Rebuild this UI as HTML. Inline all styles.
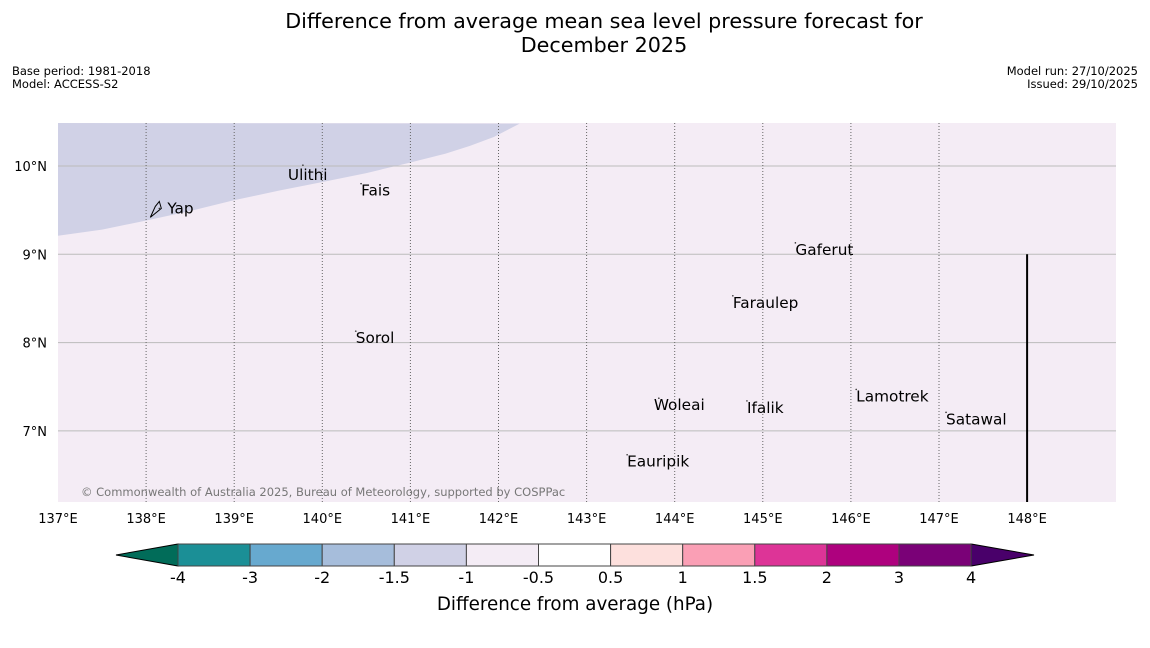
<!DOCTYPE html>
<html><head><meta charset="utf-8"><style>
body{margin:0;background:#fff;width:1150px;height:644px;overflow:hidden;font-family:"DejaVu Sans","Liberation Sans",sans-serif}
</style></head><body>
<svg width="1150" height="644" xmlns="http://www.w3.org/2000/svg" font-family="DejaVu Sans, Liberation Sans, sans-serif">
<text x="604" y="28" font-size="20.7" text-anchor="middle">Difference from average mean sea level pressure forecast for</text>
<text x="604" y="52" font-size="20.7" text-anchor="middle">December 2025</text>
<text x="12" y="75" font-size="11.5">Base period: 1981-2018</text>
<text x="12" y="88" font-size="11.5">Model: ACCESS-S2</text>
<text x="1138" y="75" font-size="11.5" text-anchor="end">Model run: 27/10/2025</text>
<text x="1138" y="88" font-size="11.5" text-anchor="end">Issued: 29/10/2025</text>
<g id="map"></g>
<g id="cbar"></g>
<text x="575" y="610" font-size="18.3" text-anchor="middle">Difference from average (hPa)</text>
</svg>
<script>
const lonTicks=[137,138,139,140,141,142,143,144,145,146,147,148];
const latTicks=[10,9,8,7];
const places=["Yap","Ulithi","Fais","Gaferut","Faraulep","Sorol","Woleai","Ifalik","Lamotrek","Satawal","Eauripik"];
const placeLon=[138.15,139.78,140.44,145.37,144.66,140.38,143.82,144.82,146.06,147.08,143.46];
const placeLat=[9.52,10.01,9.80,9.13,8.53,8.13,7.37,7.34,7.47,7.21,6.73];
const contourLon=[137,137.5,137.99,138.5,138.99,139.5,140.01,140.5,140.96,141.4,141.68,141.95,142.24];
const contourLat=[9.21,9.28,9.38,9.49,9.61,9.72,9.82,9.92,10.03,10.14,10.23,10.33,10.48];
const cbLevels=["-4","-3","-2","-1.5","-1","-0.5","0.5","1","1.5","2","3","4"];
const cbColors=["#1b8f96","#67a9cf","#a6bddb","#d0d1e6","#f4ecf5","#ffffff","#fde0dd","#fa9fb5","#dd3497","#ae017e","#7a0177"];
const cbLow="#016c59", cbHigh="#49006a";
const NS="http://www.w3.org/2000/svg";
const X0=58,X1=1116,Y0=123,Y1=502;
const x=lon=>58+(lon-137)*88.1;
const y=lat=>166-(lat-10)*88.3;
function el(t,a,p){const e=document.createElementNS(NS,t);for(const k in a)e.setAttribute(k,a[k]);p.appendChild(e);return e;}
const map=document.getElementById('map');
const bg=el('rect',{x:X0,y:Y0,width:X1-X0,height:Y1-Y0,fill:'#f4ecf5'},map);


let d=`M${X0},${Y0}`;
contourLon.forEach((l,i)=>{d+=` L${x(l)},${Math.max(Y0,y(contourLat[i]))}`;});
d+=' Z';
const neg=el('path',{d:d,fill:'#d0d1e6'},map);


latTicks.forEach(l=>{
 const g=el('line',{x1:X0,x2:X1,y1:y(l),y2:y(l),stroke:'#bbb','stroke-width':1},map);
 
 
 const t=el('text',{x:47,y:y(l)+5,'font-size':13,'text-anchor':'end'},map);t.textContent=l+'°N';
 
 
});
lonTicks.forEach(l=>{
 if(l>137&&l<148){const g=el('line',{x1:x(l),x2:x(l),y1:Y0,y2:Y1,stroke:'#666','stroke-width':1,'stroke-dasharray':'1,2'},map);
 
 }
 const t=el('text',{x:x(l),y:523,'font-size':13,'text-anchor':'middle'},map);t.textContent=l+'°E';
 
 
});
const vl=el('line',{x1:x(148),x2:x(148),y1:y(9),y2:Y1,stroke:'#000','stroke-width':2},map);


places.forEach((p,i)=>{
 const px=x(placeLon[i]),py=y(placeLat[i]);
 const m=el('circle',{cx:px,cy:py,r:0.8,fill:'#333'},map);
 
 
 let dx=0,dy=12;
 if(p==='Yap'){dx=8;dy=5;}
 if(p==='Ulithi'){dx=-15;dy=15;}
 if(p==='Woleai'){dx=-5;}
 const t=el('text',{x:px+dx,y:py+dy,'font-size':15.3},map);t.textContent=p;
 
 
});
const yap=el('path',{d:`M${x(138.15)-9},${y(9.52)+9} L${x(138.15)-4},${y(9.52)-2} L${x(138.15)},${y(9.52)-7} L${x(138.15)+2},${y(9.52)} Z`,fill:'none',stroke:'#000','stroke-width':1},map);


const cp=el('text',{x:81,y:496,'font-size':11.5,fill:'#777'},map);cp.textContent='© Commonwealth of Australia 2025, Bureau of Meteorology, supported by COSPPac';


const cb=document.getElementById('cbar');
const CX0=178,CW=72.1,CY=544,CH=22;
const lt=el('polygon',{points:`${CX0},${CY} ${CX0},${CY+CH} 116,${CY+CH/2}`,fill:cbLow,stroke:'#000','stroke-width':1},cb);


const xe=CX0+cbColors.length*CW;
const rt=el('polygon',{points:`${xe},${CY} ${xe},${CY+CH} 1034,${CY+CH/2}`,fill:cbHigh,stroke:'#000','stroke-width':1},cb);


cbColors.forEach((c,i)=>{
 const r=el('rect',{x:CX0+i*CW,y:CY,width:CW,height:CH,fill:c,stroke:'#444','stroke-width':1},cb);
 
 
});
cbLevels.forEach((l,i)=>{
 const t=el('text',{x:CX0+i*CW,y:583,'font-size':16,'text-anchor':'middle'},cb);t.textContent=l;
 
 
});
</script>
</body></html>
